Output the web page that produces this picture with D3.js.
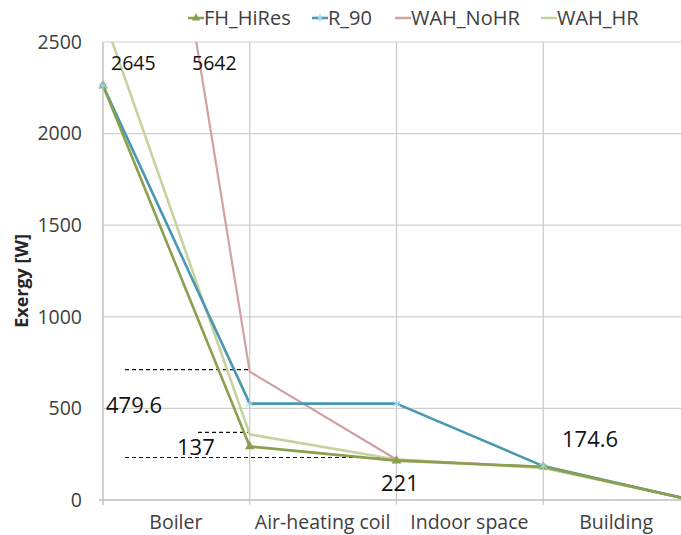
<!DOCTYPE html>
<html><head><meta charset="utf-8">
<script src="https://cdn.jsdelivr.net/npm/d3@7"></script>
<style>body{margin:0;background:#fff}svg{display:block}text{font-family:"Open Sans",sans-serif}</style>
</head><body>
<svg id="c" width="681" height="535"></svg>
<script>
const categories = ["Boiler", "Air-heating coil", "Indoor space", "Building"];
const stages = [0, 1, 2, 3, 4];
const FH_HiRes = [2262, 292, 215, 181, 2];
const R_90 = [2262, 526, 526, 185, 2];
const WAH_NoHR = [5642, 700.6, 221, 180, 2];
const WAH_HR = [2645, 358, 221, 174.6, 2];
const yTicks = [0, 500, 1000, 1500, 2000, 2500];
const annLabels = ["2645", "5642", "479.6", "137", "221", "174.6"];
const series = [
  {name: "FH_HiRes", values: FH_HiRes, color: "#8aa04e", marker: "tri", w: 2.6},
  {name: "R_90", values: R_90, color: "#4a97b0", marker: "star", w: 2.6},
  {name: "WAH_NoHR", values: WAH_NoHR, color: "#d3a0a3", marker: null, w: 2.2},
  {name: "WAH_HR", values: WAH_HR, color: "#c5d49f", marker: null, w: 2.6}
];

const svg = d3.select("#c");
const x = d3.scaleLinear().domain([0, 4]).range([103, 690]);
const y = d3.scaleLinear().domain([0, 2500]).range([500, 42]);

// gridlines
const g = svg.append("g");
g.selectAll(".hg").data(yTicks.filter(d => d > 0)).join("line")
  .attr("x1", x(0)).attr("x2", 690).attr("y1", d => y(d)).attr("y2", d => y(d))
  .attr("stroke", "#d0d0d0").attr("stroke-width", 1.2);
g.selectAll(".vg").data(stages.slice(1)).join("line")
  .attr("x1", d => x(d)).attr("x2", d => x(d)).attr("y1", y(2500)).attr("y2", y(0) + 5)
  .attr("stroke", "#c8c8c8").attr("stroke-width", 1.2);
// axes
g.append("line").attr("x1", x(0)).attr("x2", x(0)).attr("y1", y(2500)).attr("y2", y(0) + 5)
  .attr("stroke", "#c0c0c0").attr("stroke-width", 1.4);
g.append("line").attr("x1", x(0) - 4).attr("x2", 690).attr("y1", y(0)).attr("y2", y(0))
  .attr("stroke", "#c0c0c0").attr("stroke-width", 1.4);

// y tick labels
svg.append("g").selectAll("text").data(yTicks).join("text")
  .attr("x", 82).attr("y", d => y(d)).attr("dy", "0.35em").attr("text-anchor", "end")
  .attr("font-size", 19.5).attr("fill", "#404040").text(d => d);

// category labels
svg.append("g").selectAll("text").data(categories).join("text")
  .attr("x", (d, i) => (x(i) + x(i + 1)) / 2 - 0.5).attr("y", 522).attr("dy", "0.35em")
  .attr("text-anchor", "middle").attr("font-size", 19.5).attr("fill", "#404040").text(d => d);

// y label
svg.append("text").attr("transform", "translate(22,281) rotate(-90)")
  .attr("text-anchor", "middle").attr("dy", "0.35em").attr("font-size", 18)
  .attr("font-weight", "bold").attr("fill", "#262626").text("Exergy [W]");

// dashed guides
const dash = [
  {x1: 125, s2: 1, v: WAH_NoHR[1]},
  {x1: 198, s2: 1, v: WAH_HR[1]},
  {x1: 125, s2: 2, v: WAH_HR[2]}
];
svg.append("g").selectAll("line").data(dash).join("line")
  .attr("x1", d => d.x1).attr("x2", d => x(d.s2)).attr("y1", d => y(d.v) - 2).attr("y2", d => y(d.v) - 2)
  .attr("stroke", "#111").attr("stroke-width", 1.2).attr("stroke-dasharray", "4,3");

// clip
svg.append("clipPath").attr("id", "clip").append("rect")
  .attr("x", 0).attr("y", y(2500)).attr("width", 700).attr("height", y(0) - y(2500) + 10);

const line = d3.line().x((d, i) => x(i)).y(d => y(d));
const lg = svg.append("g").attr("clip-path", "url(#clip)");
[3, 2, 1, 0].forEach(k => {
  const s = series[k];
  lg.append("path").attr("d", line(s.values)).attr("fill", "none")
    .attr("stroke", s.color).attr("stroke-width", s.w).attr("stroke-linejoin", "round");
});
// markers
const tri = d3.symbol().type(d3.symbolTriangle).size(40);
lg.selectAll(".tri").data(FH_HiRes).join("path")
  .attr("transform", (d, i) => `translate(${x(i)},${y(d)})`).attr("d", tri()).attr("fill", "#8aa04e");
const star = d3.symbol().type(d3.symbolAsterisk).size(50);
lg.selectAll(".star").data(R_90).join("path")
  .attr("transform", (d, i) => `translate(${x(i)},${y(d)})`).attr("d", star())
  .attr("fill", "none").attr("stroke", "#9fd3e3").attr("stroke-width", 1.2);

// annotations
const annPos = [
  {x: 111, y: 63, size: 19.5},
  {x: 192, y: 63, size: 19.5},
  {x: 106, y: 405, size: 22},
  {x: 177, y: 447, size: 22},
  {x: 381, y: 483, size: 22},
  {x: 562, y: 439, size: 22}
];
svg.append("g").selectAll("text").data(annLabels).join("text")
  .attr("x", (d, i) => annPos[i].x).attr("y", (d, i) => annPos[i].y).attr("dy", "0.35em")
  .attr("font-size", (d, i) => annPos[i].size).attr("fill", "#111").text(d => d);

// legend
const legX = [188, 312, 395, 541];
const lgd = svg.append("g");
series.forEach((s, i) => {
  const gx = legX[i];
  lgd.append("line").attr("x1", gx).attr("x2", gx + 16).attr("y1", 18).attr("y2", 18)
    .attr("stroke", s.color).attr("stroke-width", 2.5);
  if (s.marker === "tri") lgd.append("path").attr("transform", `translate(${gx + 8},18)`)
    .attr("d", d3.symbol().type(d3.symbolTriangle).size(30)()).attr("fill", s.color);
  if (s.marker === "star") lgd.append("path").attr("transform", `translate(${gx + 8},18)`)
    .attr("d", d3.symbol().type(d3.symbolAsterisk).size(45)()).attr("fill", "none")
    .attr("stroke", "#9fd3e3").attr("stroke-width", 1.2);
  lgd.append("text").attr("x", gx + 16).attr("y", 18).attr("dy", "0.35em")
    .attr("font-size", 20).attr("fill", "#404040").text(s.name);
});
</script>
</body></html>
